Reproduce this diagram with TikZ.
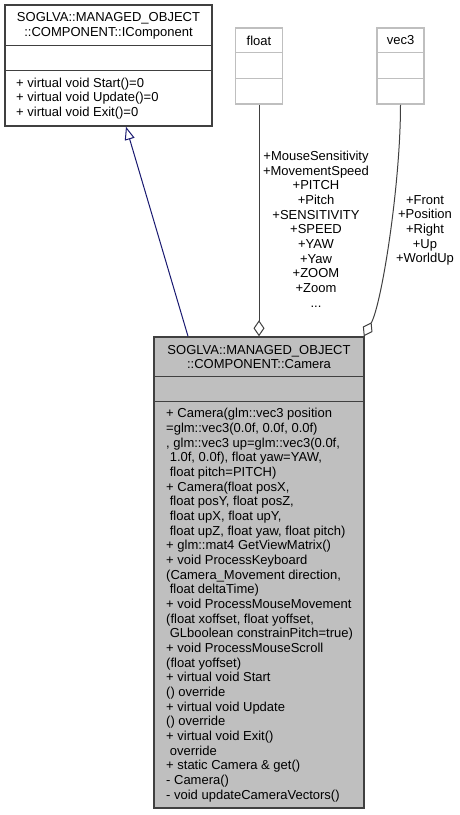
\documentclass[tikz,border=0pt]{standalone}
\usepackage{fontspec}
\setmainfont{Liberation Sans}
\usetikzlibrary{arrows.meta}
\definecolor{linegray}{HTML}{404040}
\definecolor{boxgray}{HTML}{BFBFBF}
\definecolor{edgeblue}{HTML}{191970}

\begin{document}
\begin{tikzpicture}[x=1pt,y=-1pt,
  classbox/.style={draw=linegray, line width=1.5pt, rectangle, inner sep=0pt},
  typebox/.style={draw=boxgray, line width=1.5pt, rectangle, fill=white, inner sep=0pt},
  txt/.style={inner sep=0pt, font=\fontsize{13}{14.67}\selectfont}]
\useasboundingbox (0,0) rectangle (459,815);

% base class
\node (icomp) [classbox, minimum width=207pt, minimum height=121pt] at (108.5,65.5) {};
\draw[linegray, line width=1.5pt] ([yshift=-41pt]icomp.north west) -- ([yshift=-41pt]icomp.north east);
\draw[linegray, line width=1.5pt] ([yshift=-66pt]icomp.north west) -- ([yshift=-66pt]icomp.north east);
\node (icompname) [txt, align=center] at (108.5,25.5) {SOGLVA::MANAGED\_OBJECT\\::COMPONENT::IComponent};
\node (icompops) [txt, align=left, anchor=west] at (16,98.5) {+ virtual void Start()=0\\+ virtual void Update()=0\\+ virtual void Exit()=0};

% member types
\node (float) [typebox, minimum width=47pt, minimum height=76pt] at (259,66) {};
\draw[boxgray, line width=1.5pt] ([yshift=-25pt]float.north west) -- ([yshift=-25pt]float.north east);
\draw[boxgray, line width=1.5pt] ([yshift=-51pt]float.north west) -- ([yshift=-51pt]float.north east);
\node (floatname) [txt] at (259,40.5) {float};

\node (vec3) [typebox, minimum width=47pt, minimum height=76pt] at (400.5,66) {};
\draw[boxgray, line width=1.5pt] ([yshift=-25pt]vec3.north west) -- ([yshift=-25pt]vec3.north east);
\draw[boxgray, line width=1.5pt] ([yshift=-51pt]vec3.north west) -- ([yshift=-51pt]vec3.north east);
\node (vec3name) [txt] at (400.5,40.5) {vec3};

% camera class
\node (cam) [classbox, fill=boxgray, minimum width=210pt, minimum height=471pt] at (259,572.5) {};
\draw[linegray, line width=1.5pt] ([yshift=-40pt]cam.north west) -- ([yshift=-40pt]cam.north east);
\draw[linegray, line width=1.5pt] ([yshift=-65pt]cam.north west) -- ([yshift=-65pt]cam.north east);
\node (camname) [txt, align=center] at (259,357) {SOGLVA::MANAGED\_OBJECT\\::COMPONENT::Camera};
\node (camops) [txt, align=left, anchor=west] at (166,605) {+ Camera(glm::vec3 position\\=glm::vec3(0.0f, 0.0f, 0.0f)\\, glm::vec3 up=glm::vec3(0.0f,\\ \ 1.0f, 0.0f), float yaw=YAW,\\ \ float pitch=PITCH)\\+ Camera(float posX,\\ \ float posY, float posZ,\\ \ float upX, float upY,\\ \ float upZ, float yaw, float pitch)\\+ glm::mat4 GetViewMatrix()\\+ void ProcessKeyboard\\(Camera\_Movement direction,\\ \ float deltaTime)\\+ void ProcessMouseMovement\\(float xoffset, float yoffset,\\ \ GLboolean constrainPitch=true)\\+ void ProcessMouseScroll\\(float yoffset)\\+ virtual void Start\\() override\\+ virtual void Update\\() override\\+ virtual void Exit()\\ \ override\\+ static Camera \& get()\\- Camera()\\- void updateCameraVectors()};

% connectors
\draw[edgeblue, line width=1pt, -{Triangle[fill=white, length=13pt, width=10pt]}] ([xshift=-71pt]cam.north) -- ([xshift=17.5pt]icomp.south);
\draw[linegray, line width=1pt, -{Diamond[fill=white, length=16pt, width=11pt]}] (float.south) -- (cam.north);
\draw[linegray, line width=1pt, -{Diamond[fill=white, length=16pt, width=11pt]}] (vec3.south) .. controls +(0,80) and +(18,-32) .. ([xshift=-1pt]cam.north east);

\node (floatlabels) [txt, align=center] at (316,229) {+MouseSensitivity\\+MovementSpeed\\+PITCH\\+Pitch\\+SENSITIVITY\\+SPEED\\+YAW\\+Yaw\\+ZOOM\\+Zoom\\...};
\node (vec3labels) [txt, align=center] at (425,230.5) {+Front\\+Position\\+Right\\+Up\\+WorldUp};
\end{tikzpicture}
\end{document}
